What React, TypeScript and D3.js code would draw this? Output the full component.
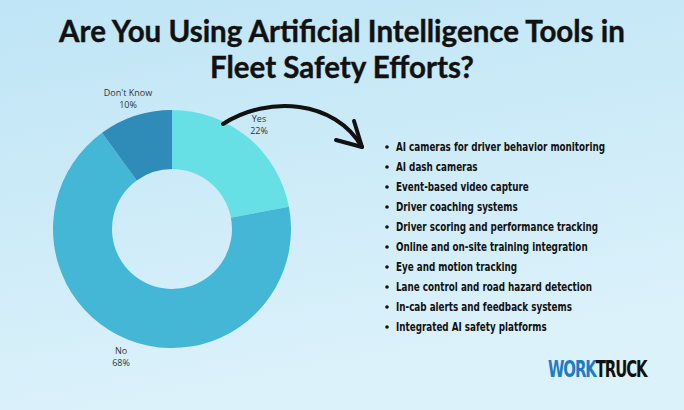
import React from "react";
import * as d3 from "d3";

const categories = ["Yes", "No", "Don't Know"];
const values = [22, 68, 10];
const colors = ["#67e0e5", "#43b7d5", "#2f8bb8"];
const titleLines = ["Are You Using Artificial Intelligence Tools in", "Fleet Safety Efforts?"];
const listItems = [
  "AI cameras for driver behavior monitoring",
  "AI dash cameras",
  "Event-based video capture",
  "Driver coaching systems",
  "Driver scoring and performance tracking",
  "Online and on-site training integration",
  "Eye and motion tracking",
  "Lane control and road hazard detection",
  "In-cab alerts and feedback systems",
  "Integrated AI safety platforms",
];
const labelPos: [number, number][] = [
  [259, 122],
  [121, 354],
  [128, 96],
];

export default function App() {
  const W = 684, H = 410;
  const cx = 172, cy = 229, R = 119, r = 60;
  const pie = d3.pie<number>().sort(null).value((d) => d)(values);
  const arc = d3.arc<d3.PieArcDatum<number>>().innerRadius(r).outerRadius(R);
  const arrow = d3.path();
  arrow.moveTo(223, 124);
  arrow.bezierCurveTo(268, 95, 335, 100, 362, 147);
  const sx = 0.85;
  return (
    <svg width={W} height={H} style={{ position: "absolute", left: 0, top: 0 }}>
      <defs>
        <linearGradient id="bg" x1="0" y1="0" x2="0.3" y2="1">
          <stop offset="0" stopColor="#bfe5f6" />
          <stop offset="0.5" stopColor="#cdebf8" />
          <stop offset="1" stopColor="#dcf2fb" />
        </linearGradient>
      </defs>
      <rect width={W} height={H} fill="url(#bg)" />
      {titleLines.map((t, i) => (
        <text key={i} x={342} y={42 + i * 36} textAnchor="middle" fontFamily="Lato, 'Open Sans', sans-serif" fontWeight="bold" fontSize={29.5} fill="#111" stroke="#111" strokeWidth={0.4}>
          {t}
        </text>
      ))}
      <g transform={`translate(${cx},${cy})`}>
        {pie.map((p, i) => (
          <path key={i} d={arc(p) || ""} fill={colors[i]} />
        ))}
      </g>
      {categories.map((c, i) => (
        <g key={c} fontFamily="'Open Sans', sans-serif" fontSize={9} fill="#333" textAnchor="middle">
          <text x={labelPos[i][0]} y={labelPos[i][1]}>{c}</text>
          <text x={labelPos[i][0]} y={labelPos[i][1] + 11.5}>{values[i]}%</text>
        </g>
      ))}
      <path d={arrow.toString()} fill="none" stroke="#111" strokeWidth={4} strokeLinecap="round" />
      <path d="M354,121 L362,147 L336,140" fill="none" stroke="#111" strokeWidth={4} strokeLinecap="round" strokeLinejoin="round" />
      {listItems.map((t, i) => (
        <g key={i}>
          <circle cx={387} cy={147 + i * 20} r={1.8} fill="#111" />
          <g transform={`translate(396,${151 + i * 20}) scale(${sx},1)`}>
            <text x={0} y={0} fontFamily="'DejaVu Sans Condensed', 'DejaVu Sans', sans-serif" fontWeight="bold" fontSize={11.5} fill="#111">
              {t}
            </text>
          </g>
        </g>
      ))}
      <g transform="translate(548,377) scale(0.72,1)">
        <text x={0} y={0} fontFamily="'DejaVu Sans Condensed', 'DejaVu Sans', sans-serif" fontWeight="bold" fontSize={23} letterSpacing={-1.5}>
          <tspan fill="#1e7cc4">WORK</tspan>
          <tspan fill="#111">TRUCK</tspan>
        </text>
      </g>
    </svg>
  );
}
